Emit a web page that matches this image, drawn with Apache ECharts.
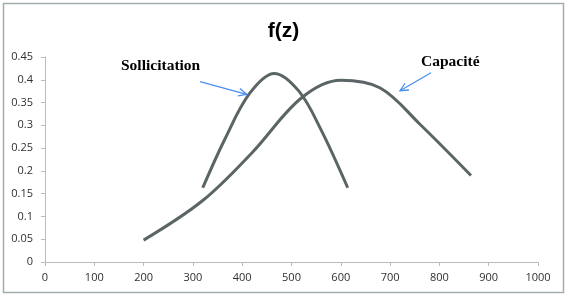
<!DOCTYPE html>
<html>
<head>
<meta charset="utf-8">
<script src="https://cdn.jsdelivr.net/npm/echarts@6/dist/echarts.min.js"></script>
<style>
    html, body { margin: 0; padding: 0; background: #fff; }
    #chart { width: 567px; height: 296px; }
</style>
</head>
<body>
<div id="chart"></div>
<script>
    var xTicks = [0, 100, 200, 300, 400, 500, 600, 700, 800, 900, 1000];
    var yTicks = [0, 0.05, 0.1, 0.15, 0.2, 0.25, 0.3, 0.35, 0.4, 0.45];

    // Sollicitation curve
    var sollX = [320, 365, 415, 465, 515, 560, 614];
    var sollY = [0.163, 0.27, 0.37, 0.414, 0.375, 0.29, 0.163];

    // Capacité curve
    var capX = [200, 320, 420, 520, 600, 680, 760, 864];
    var capY = [0.048, 0.135, 0.24, 0.36, 0.399, 0.382, 0.303, 0.19];

    function pairs(xs, ys) {
        var out = [];
        for (var i = 0; i < xs.length; i++) {
            out.push([xs[i], ys[i]]);
        }
        return out;
    }

    function arrow(x1, y1, x2, y2) {
        var a = Math.atan2(y2 - y1, x2 - x1);
        var len = 9, spread = 0.45;
        var style = {stroke: '#4a8ff0', lineWidth: 1.3, fill: null};
        return [
            {type: 'polyline', shape: {points: [[x1, y1], [x2, y2]]}, style: style},
            {type: 'polyline', shape: {points: [
                [x2 - len * Math.cos(a - spread), y2 - len * Math.sin(a - spread)],
                [x2, y2],
                [x2 - len * Math.cos(a + spread), y2 - len * Math.sin(a + spread)]
            ]}, style: style}
        ];
    }

    var chart = echarts.init(document.getElementById('chart'));

    var lineStyle = {color: '#5b6566', width: 3};

    chart.setOption({
        backgroundColor: '#fff',
        animation: false,
        title: {
            text: 'f(z)',
            left: 'center',
            top: 16,
            textStyle: {
                fontFamily: 'Liberation Sans',
                fontWeight: 'bold',
                fontSize: 21,
                color: '#000'
            }
        },
        grid: {
            left: 45,
            right: 29,
            top: 57,
            bottom: 34
        },
        xAxis: {
            type: 'value',
            min: xTicks[0],
            max: xTicks[xTicks.length - 1],
            interval: 100,
            splitLine: {show: false},
            axisLine: {lineStyle: {color: '#b8bcbc', width: 1}},
            axisTick: {show: true, length: 4, lineStyle: {color: '#b8bcbc'}},
            axisLabel: {
                margin: 10,
                fontFamily: 'Open Sans',
                fontSize: 11,
                color: '#303030',
                formatter: function (v) {
                    return String(v);
                }
            }
        },
        yAxis: {
            type: 'value',
            min: yTicks[0],
            max: yTicks[yTicks.length - 1],
            interval: 0.05,
            splitLine: {show: false},
            axisLine: {show: true, lineStyle: {color: '#b8bcbc', width: 1}},
            axisTick: {show: true, length: 4, lineStyle: {color: '#b8bcbc'}},
            axisLabel: {
                margin: 12,
                fontFamily: 'Open Sans',
                fontSize: 11,
                color: '#303030',
                formatter: function (v) {
                    return String(+v.toFixed(2));
                }
            }
        },
        series: [
            {
                name: 'Sollicitation',
                type: 'line',
                smooth: 0.35,
                showSymbol: false,
                lineStyle: lineStyle,
                data: pairs(sollX, sollY)
            },
            {
                name: 'Capacité',
                type: 'line',
                smooth: 0.35,
                showSymbol: false,
                lineStyle: lineStyle,
                data: pairs(capX, capY)
            }
        ],
        graphic: [
            {
                type: 'rect',
                shape: {x: 3.5, y: 3.5, width: 560, height: 289},
                style: {stroke: '#a3adb0', lineWidth: 1.5, fill: null},
                silent: true
            },
            {
                type: 'text',
                left: 121,
                top: 58,
                style: {
                    text: 'Sollicitation',
                    font: 'bold 15.5px "Liberation Serif"',
                    fill: '#000'
                }
            },
            {
                type: 'text',
                left: 421,
                top: 54,
                style: {
                    text: 'Capacité',
                    font: 'bold 15.5px "Liberation Serif"',
                    fill: '#000'
                }
            }
        ].concat(arrow(200, 81.7, 246.7, 94.3)).concat(arrow(431, 72.7, 400, 90.7))
    });
</script>
</body>
</html>
